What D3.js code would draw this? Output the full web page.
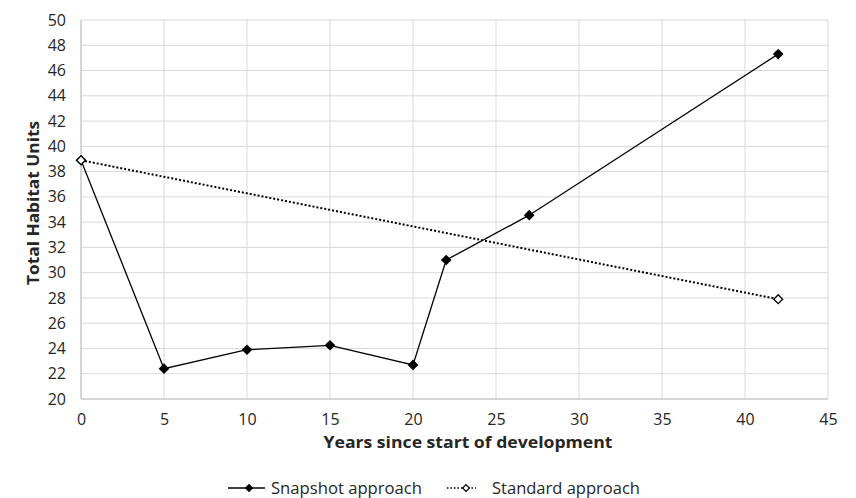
<!DOCTYPE html>
<html><head><meta charset="utf-8">
<script src="https://cdn.jsdelivr.net/npm/d3@7"></script>
<style>body{margin:0;background:#fff}svg{display:block}text{font-family:"Open Sans","Noto Sans",sans-serif;fill:#262626}</style>
</head><body><svg id="c" width="856" height="498"></svg>
<script>
const snapshotX = [0, 5, 10, 15, 20, 22, 27, 42];
const snapshotY = [38.9, 22.4, 23.9, 24.25, 22.7, 31.0, 34.55, 47.3];
const standardX = [0, 42];
const standardY = [38.9, 27.9];
const xTicks = [0,5,10,15,20,25,30,35,40,45];
const yTicks = [20,22,24,26,28,30,32,34,36,38,40,42,44,46,48,50];
const seriesNames = ["Snapshot approach", "Standard approach"];
const xTitle = "Years since start of development";
const yTitle = "Total Habitat Units";

const svg = d3.select("#c");
const m = {l:81, r:828, t:20, b:399};
const x = d3.scaleLinear().domain([0,45]).range([m.l, m.r]);
const y = d3.scaleLinear().domain([20,50]).range([m.b, m.t]);

// grid
const g = svg.append("g");
g.selectAll(".vg").data(xTicks).join("line")
  .attr("x1", d=>x(d)).attr("x2", d=>x(d)).attr("y1", m.t).attr("y2", m.b)
  .attr("stroke", "#d9d9d9").attr("stroke-width", 1);
g.selectAll(".hg").data(yTicks).join("line")
  .attr("x1", m.l).attr("x2", m.r).attr("y1", d=>y(d)).attr("y2", d=>y(d))
  .attr("stroke", "#d9d9d9").attr("stroke-width", 1);

// axes
const xa = svg.append("g").attr("transform", `translate(0,${m.b})`)
  .call(d3.axisBottom(x).tickValues(xTicks).tickSize(0).tickPadding(15));
xa.selectAll("text").style("font-size", "16px").style("fill","#262626").style("font-family",'"Open Sans"');
const ya = svg.append("g").attr("transform", `translate(${m.l},0)`)
  .call(d3.axisLeft(y).tickValues(yTicks).tickSize(0).tickPadding(15));
ya.selectAll("text").style("font-size", "16px").style("fill","#262626").style("font-family",'"Open Sans"');
svg.selectAll(".domain").remove();
svg.append("line").attr("x1", m.l).attr("x2", m.l).attr("y1", m.t).attr("y2", m.b).attr("stroke","#cfcfcf").attr("stroke-width",1.5);
svg.append("line").attr("x1", m.l).attr("x2", m.r).attr("y1", m.b).attr("y2", m.b).attr("stroke","#cfcfcf").attr("stroke-width",1.5);

// titles
svg.append("text").attr("x", 468).attr("y", 448).attr("text-anchor","middle")
  .style("font-size", "16px").style("font-weight", "bold").attr("textLength", 289).attr("lengthAdjust","spacingAndGlyphs").text(xTitle);
svg.append("text").attr("transform", `translate(39,203) rotate(-90)`).attr("text-anchor","middle")
  .style("font-size", "16px").style("font-weight", "bold").attr("textLength", 164).attr("lengthAdjust","spacingAndGlyphs").text(yTitle);

const line = d3.line().x(d=>x(d[0])).y(d=>y(d[1]));
const snap = snapshotX.map((v,i)=>[v, snapshotY[i]]);
const std = standardX.map((v,i)=>[v, standardY[i]]);
const diamond = d3.symbol().type(d3.symbolDiamond2);

svg.append("path").attr("d", line(std)).attr("fill","none").attr("stroke","#000").attr("stroke-width",2).attr("stroke-dasharray","2,2");
svg.append("path").attr("d", line(snap)).attr("fill","none").attr("stroke","#000").attr("stroke-width",1.3);
svg.selectAll(".sm").data(snap).join("path")
  .attr("transform", d=>`translate(${x(d[0])},${y(d[1])})`).attr("d", diamond.size(72)()).attr("fill","#000");
svg.selectAll(".tm").data(std).join("path")
  .attr("transform", d=>`translate(${x(d[0])},${y(d[1])})`).attr("d", diamond.size(50)()).attr("fill","#fff").attr("stroke","#000").attr("stroke-width",1.3);

// legend
const ly = 488;
svg.append("line").attr("x1",228).attr("x2",265).attr("y1",ly).attr("y2",ly).attr("stroke","#000").attr("stroke-width",1.3);
svg.append("path").attr("transform",`translate(249,${ly})`).attr("d", diamond.size(45)()).attr("fill","#000");
svg.append("text").attr("x",271).attr("y",ly+6).style("font-size","16px").attr("textLength",151).attr("lengthAdjust","spacingAndGlyphs").text(seriesNames[0]);
svg.append("line").attr("x1",447).attr("x2",476).attr("y1",ly).attr("y2",ly).attr("stroke","#000").attr("stroke-width",1.5).attr("stroke-dasharray","1.5,2");
svg.append("path").attr("transform",`translate(466,${ly})`).attr("d", diamond.size(30)()).attr("fill","#fff").attr("stroke","#000").attr("stroke-width",1.2);
svg.append("text").attr("x",492).attr("y",ly+6).style("font-size","16px").attr("textLength",148).attr("lengthAdjust","spacingAndGlyphs").text(seriesNames[1]);
</script></body></html>
